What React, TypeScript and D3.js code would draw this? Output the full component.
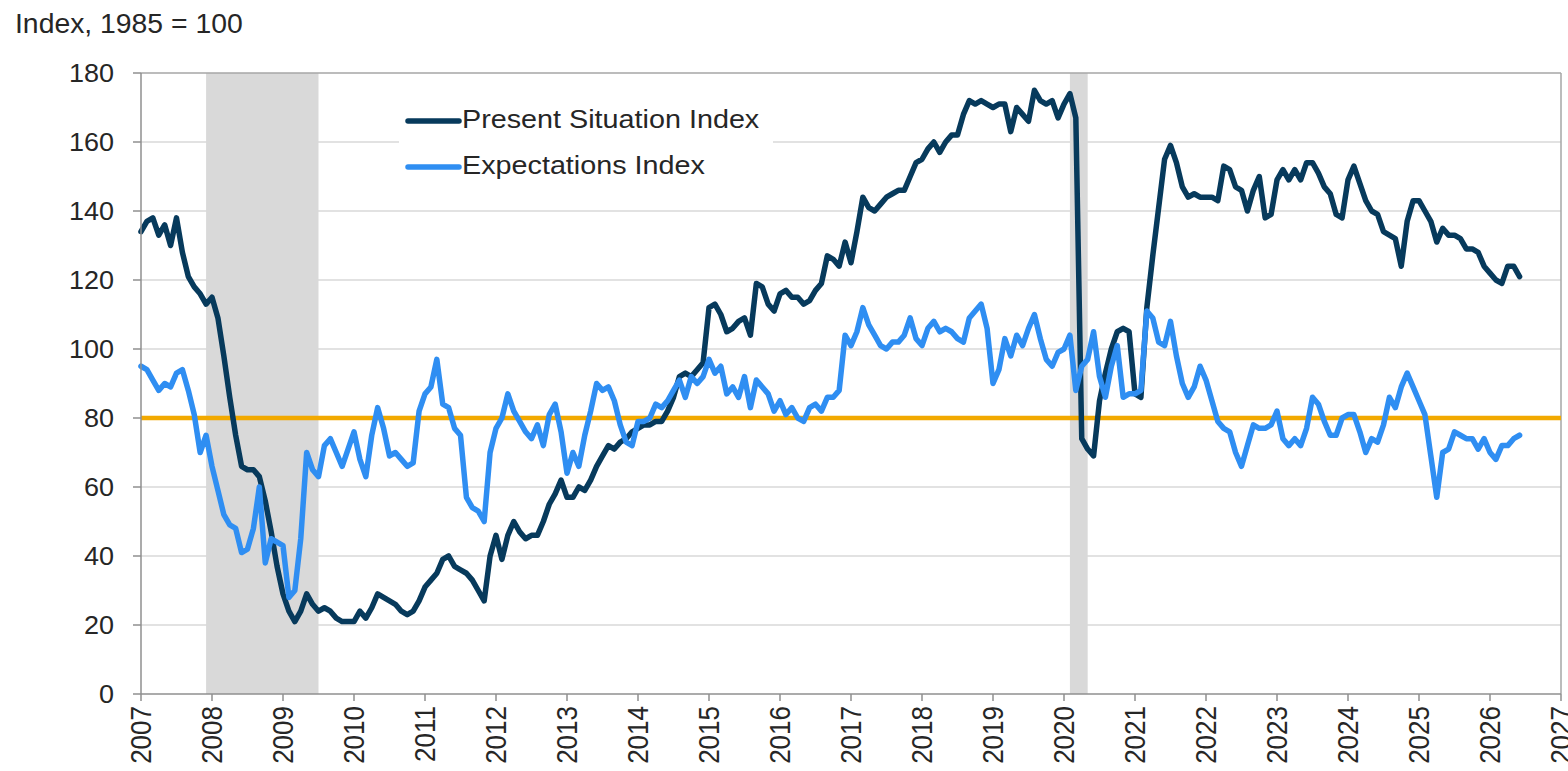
import React from "react";
import * as d3 from "d3";

// ---- Data (monthly, Jan 2007 onward) ----
const START_YEAR = 2007;

const presentSituation: number[] = [
  // 2007
  134, 137, 138, 133, 136, 130, 138, 128, 121, 118, 116, 113,
  // 2008
  115, 109, 98, 86, 75, 66, 65, 65, 63, 56, 47, 37,
  // 2009
  29, 24, 21, 24, 29, 26, 24, 25, 24, 22, 21, 21,
  // 2010
  21, 24, 22, 25, 29, 28, 27, 26, 24, 23, 24, 27,
  // 2011
  31, 33, 35, 39, 40, 37, 36, 35, 33, 30, 27, 40,
  // 2012
  46, 39, 46, 50, 47, 45, 46, 46, 50, 55, 58, 62,
  // 2013
  57, 57, 60, 59, 62, 66, 69, 72, 71, 73, 74, 76,
  // 2014
  77, 78, 78, 79, 79, 82, 86, 92, 93, 92, 94, 96,
  // 2015
  112, 113, 110, 105, 106, 108, 109, 104, 119, 118, 113, 111,
  // 2016
  116, 117, 115, 115, 113, 114, 117, 119, 127, 126, 124, 131,
  // 2017
  125, 134, 144, 141, 140, 142, 144, 145, 146, 146, 150, 154,
  // 2018
  155, 158, 160, 157, 160, 162, 162, 168, 172, 171, 172, 171,
  // 2019
  170, 171, 171, 163, 170, 168, 166, 175, 172, 171, 172, 167,
  // 2020
  171, 174, 167, 74, 71, 69, 85, 93, 100, 105, 106, 105,
  // 2021
  87, 86, 112, 127, 141, 155, 159, 154, 147, 144, 145, 144,
  // 2022
  144, 144, 143, 153, 152, 147, 146, 140, 146, 150, 138, 139,
  // 2023
  149, 152, 149, 152, 149, 154, 154, 151, 147, 145, 139, 138,
  // 2024
  149, 153, 148, 143, 140, 139, 134, 133, 132, 124, 137, 143,
  // 2025
  143, 140, 137, 131, 135, 133, 133, 132, 129, 129, 128, 124,
  // 2026
  122, 120, 119, 124, 124, 121,
];

const expectations: number[] = [
  // 2007
  95, 94, 91, 88, 90, 89, 93, 94, 88, 81, 70, 75,
  // 2008
  66, 59, 52, 49, 48, 41, 42, 48, 60, 38, 45, 44,
  // 2009
  43, 28, 30, 45, 70, 65, 63, 72, 74, 70, 66, 71,
  // 2010
  76, 68, 63, 75, 83, 77, 69, 70, 68, 66, 67, 82,
  // 2011
  87, 89, 97, 84, 83, 77, 75, 57, 54, 53, 50, 70,
  // 2012
  77, 80, 87, 82, 79, 76, 74, 78, 72, 81, 84, 76,
  // 2013
  64, 70, 66, 75, 82, 90, 88, 89, 85, 78, 73, 72,
  // 2014
  79, 79, 80, 84, 83, 85, 88, 91, 86, 92, 90, 92,
  // 2015
  97, 93, 95, 87, 89, 86, 92, 83, 91, 89, 87, 82,
  // 2016
  85, 81, 83, 80, 79, 83, 84, 82, 86, 86, 88, 104,
  // 2017
  101, 105, 112, 107, 104, 101, 100, 102, 102, 104, 109, 103,
  // 2018
  101, 106, 108, 105, 106, 105, 103, 102, 109, 111, 113, 106,
  // 2019
  90, 94, 103, 98, 104, 101, 106, 110, 103, 97, 95, 99,
  // 2020
  100, 104, 88, 95, 97, 105, 92, 86, 95, 101, 86, 87,
  // 2021
  87, 88, 111, 109, 102, 101, 108, 98, 90, 86, 89, 95,
  // 2022
  91, 85, 79, 77, 76, 70, 66, 72, 78, 77, 77, 78,
  // 2023
  82, 74, 72, 74, 72, 77, 86, 84, 79, 75, 75, 80,
  // 2024
  81, 81, 76, 70, 74, 73, 78, 86, 83, 89, 93, 89,
  // 2025
  85, 81, 69, 57, 70, 71, 76, 75, 74, 74, 71, 74,
  // 2026
  70, 68, 72, 72, 74, 75,
];

const yearTicks: number[] = [
  2007, 2008, 2009, 2010, 2011, 2012, 2013, 2014, 2015, 2016, 2017, 2018,
  2019, 2020, 2021, 2022, 2023, 2024, 2025, 2026, 2027,
];
const valueTicks: number[] = [0, 20, 40, 60, 80, 100, 120, 140, 160, 180];
const recessions: [number, number][] = [
  [2007 + 11 / 12, 2009.5],
  [2020 + 1 / 12, 2020 + 4 / 12],
];
const referenceLevel = 80;
const seriesNames = ["Present Situation Index", "Expectations Index"];
const yAxisTitle = "Index, 1985 = 100";

// ---- Styling ----
const W = 1568;
const H = 771;
const FONT = "'Liberation Sans', Arial, Helvetica, sans-serif";
const TEXT = "#262626";
const DARK = "#073a5c";
const BLUE = "#2f8ef2";
const ORANGE = "#f2a900";
const SHADE = "#d9d9d9";
const GRID = "#d9d9d9";
const AXIS = "#8f8f8f";

export default function App() {
  const left = 141;
  const right = 1561;
  const top = 73;
  const bottom = 694;

  const x = d3.scaleLinear().domain([2007, 2027]).range([left, right]);
  const y = d3.scaleLinear().domain([0, 180]).range([bottom, top]);

  const toPts = (vals: number[]) =>
    vals.map((v, i) => ({ t: START_YEAR + i / 12, v }));

  const line = d3
    .line<{ t: number; v: number }>()
    .x((d) => x(d.t))
    .y((d) => y(d.v));

  const psiPath = line(toPts(presentSituation)) || "";
  const eiPath = line(toPts(expectations)) || "";

  return (
    <svg
      width={W}
      height={H}
      style={{ position: "absolute", left: 0, top: 0, background: "#fff" }}
      fontFamily={FONT}
    >
      <rect x={0} y={0} width={W} height={H} fill="#fff" />

      {/* title */}
      <text
        transform={`translate(15,33) scale(1.05,1)`}
        fontSize={27}
        fill={TEXT}
      >
        {yAxisTitle}
      </text>

      {/* recession shading */}
      {recessions.map(([a, b], i) => (
        <rect
          key={i}
          x={x(a)}
          y={top}
          width={x(b) - x(a)}
          height={bottom - top}
          fill={SHADE}
        />
      ))}

      {/* gridlines */}
      {valueTicks
        .filter((v) => v > 0 && v < 180)
        .map((v) => (
          <line
            key={v}
            x1={left}
            x2={right}
            y1={y(v)}
            y2={y(v)}
            stroke={GRID}
            strokeWidth={1.5}
          />
        ))}

      {/* frame top & right */}
      <line x1={left} x2={right} y1={y(180)} y2={y(180)} stroke="#a6a6a6" strokeWidth={1.5} />
      <line x1={right} x2={right} y1={top} y2={bottom} stroke="#a6a6a6" strokeWidth={1.5} />

      {/* legend background */}
      <rect x={399} y={92} width={374} height={106} fill="#fff" />

      {/* reference line */}
      <line
        x1={left}
        x2={right}
        y1={y(referenceLevel)}
        y2={y(referenceLevel)}
        stroke={ORANGE}
        strokeWidth={4.5}
      />

      {/* series */}
      <path d={psiPath} fill="none" stroke={DARK} strokeWidth={5.5} strokeLinejoin="round" strokeLinecap="round" />
      <path d={eiPath} fill="none" stroke={BLUE} strokeWidth={5.5} strokeLinejoin="round" strokeLinecap="round" />

      {/* axes */}
      <line x1={left} x2={left} y1={top} y2={bottom} stroke={AXIS} strokeWidth={1.5} />
      <line x1={left} x2={right} y1={bottom} y2={bottom} stroke={AXIS} strokeWidth={1.5} />
      {valueTicks.map((v) => (
        <g key={v}>
          <line x1={left - 8} x2={left} y1={y(v)} y2={y(v)} stroke={AXIS} strokeWidth={1.5} />
          <text
            transform={`translate(114,${y(v)}) scale(1.08,1)`}
            textAnchor="end"
            dy="0.35em"
            fontSize={25}
            fill={TEXT}
          >
            {v}
          </text>
        </g>
      ))}
      {yearTicks.map((yr) => (
        <g key={yr}>
          <line x1={x(yr)} x2={x(yr)} y1={bottom} y2={bottom + 7} stroke={AXIS} strokeWidth={1.5} />
          <text
            transform={`translate(${x(yr)},706) scale(1.1,1) rotate(-90)`}
            textAnchor="end"
            dy="0.36em"
            fontSize={26}
            fill={TEXT}
          >
            {yr}
          </text>
        </g>
      ))}

      {/* legend */}
      {seriesNames.map((name, i) => {
        const ly = 121 + i * 46;
        return (
          <g key={name}>
            <line x1={408} x2={459} y1={ly} y2={ly} stroke={i === 0 ? DARK : BLUE} strokeWidth={5.5} strokeLinecap="round" />
            <text
              transform={`translate(462,${ly + 7}) scale(1.15,1)`}
              fontSize={25}
              fill={TEXT}
            >
              {name}
            </text>
          </g>
        );
      })}
    </svg>
  );
}
